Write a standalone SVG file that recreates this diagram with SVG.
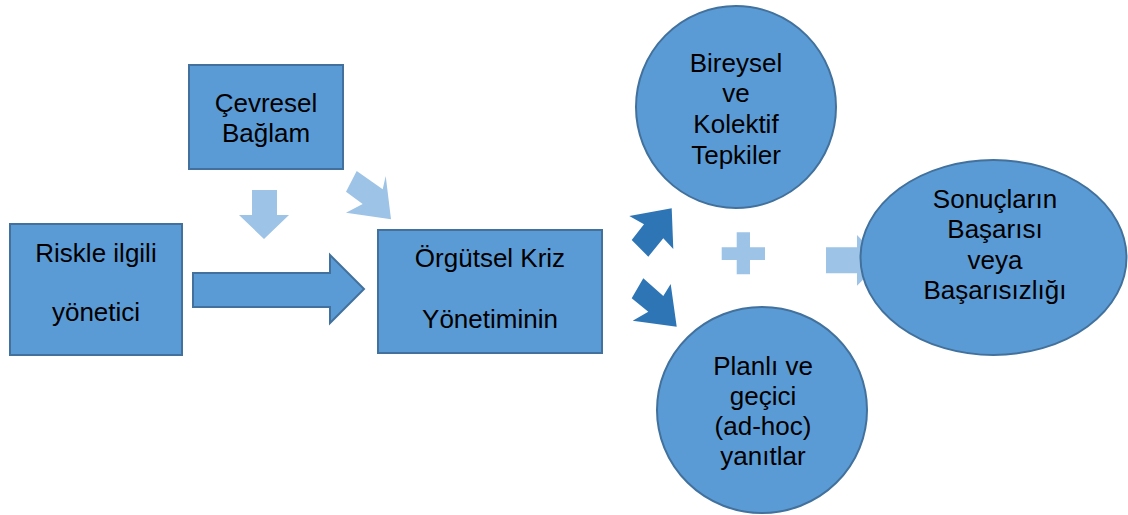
<svg xmlns="http://www.w3.org/2000/svg" width="1128" height="515" viewBox="0 0 1128 515">
  <style>
    .node { fill: #5B9BD5; stroke: #41719C; stroke-width: 2; }
    .lbl { font-family: "Liberation Sans", Arial, sans-serif; font-size: 26px; fill: #000; text-anchor: middle; }
    .light { fill: #9DC3E6; }
    .dark { fill: #2E75B6; }
    .block { fill: #5B9BD5; stroke: #41719C; stroke-width: 2; }
  </style>
  <rect width="1128" height="515" fill="#ffffff"/>

  <!-- connectors: block arrows and the plus sign -->
  <g id="connectors">
    <!-- context: down arrow -->
    <polygon class="light" points="252,190 277,190 277,215 289,215 264,239 239,215 252,215"/>
    <!-- context: diagonal arrow -->
    <polygon class="light" points="356.7,171 382.7,189.3 385.7,176 391,219.3 346,212.7 362.7,204 346,191.7"/>
    <!-- manager to crisis management -->
    <polygon class="block" points="193,273 330,273 330,255 364,289 330,323 330,307 193,307"/>
    <!-- up-right dark arrow -->
    <polygon class="dark" points="671.7,208.3 673.3,249 663.3,238.3 648.3,256.7 631.7,240 644,224.3 629.3,216"/>
    <!-- down-right dark arrow -->
    <polygon class="dark" points="643.3,278.3 663.3,296 670.7,284 676.7,326.7 632.7,320.7 648.3,311.7 631.7,298.3"/>
    <!-- plus -->
    <polygon class="light" points="736.7,232.3 750,232.3 750,247.3 765,247.3 765,260 750,260 750,274.3 736.7,274.3 736.7,260 721.7,260 721.7,247.3 736.7,247.3"/>
    <!-- toward outcome -->
    <polygon class="light" points="826,247.3 857,247.3 857,235 882,260.5 857,285.7 857,273.3 826,273.3"/>
  </g>

  <g id="cevresel-baglam">
    <rect class="node" x="189" y="65" width="154" height="104"/>
    <text class="lbl" x="266" y="112">Çevresel</text>
    <text class="lbl" x="266" y="142">Bağlam</text>
  </g>

  <g id="riskle-ilgili-yonetici">
    <rect class="node" x="10" y="224" width="172" height="131"/>
    <text class="lbl" x="96" y="262">Riskle ilgili</text>
    <text class="lbl" x="96" y="321">yönetici</text>
  </g>

  <g id="orgutsel-kriz">
    <rect class="node" x="378" y="230" width="224" height="123"/>
    <text class="lbl" x="490" y="267">Örgütsel Kriz</text>
    <text class="lbl" x="490" y="328">Yönetiminin</text>
  </g>

  <g id="bireysel-kolektif">
    <ellipse class="node" cx="736" cy="107" rx="100" ry="101"/>
    <text class="lbl" x="736" y="72">Bireysel</text>
    <text class="lbl" x="736" y="102">ve</text>
    <text class="lbl" x="736" y="133">Kolektif</text>
    <text class="lbl" x="736" y="164">Tepkiler</text>
  </g>

  <g id="planli-gecici">
    <ellipse class="node" cx="762" cy="410" rx="105" ry="103"/>
    <text class="lbl" x="763" y="375">Planlı ve</text>
    <text class="lbl" x="763" y="405">geçici</text>
    <text class="lbl" x="763" y="435">(ad-hoc)</text>
    <text class="lbl" x="763" y="465">yanıtlar</text>
  </g>

  <g id="sonuclar">
    <ellipse class="node" cx="993.5" cy="257.5" rx="133" ry="97.5"/>
    <text class="lbl" x="995" y="208">Sonuçların</text>
    <text class="lbl" x="995" y="238">Başarısı</text>
    <text class="lbl" x="995" y="269">veya</text>
    <text class="lbl" x="995" y="299">Başarısızlığı</text>
  </g>
</svg>
